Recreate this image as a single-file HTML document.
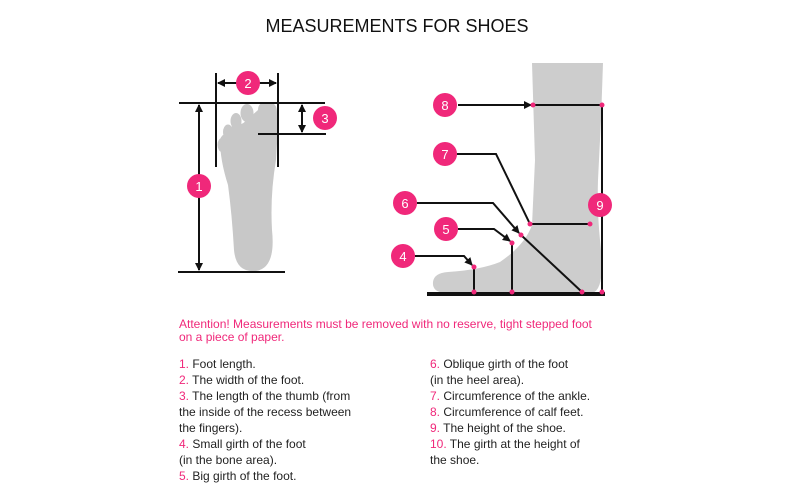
<!DOCTYPE html>
<html><head><meta charset="utf-8"><style>
html,body{margin:0;padding:0;background:#fff;width:800px;height:500px;overflow:hidden}
svg{display:block}
text{font-family:"Liberation Sans",sans-serif}
.c{fill:#f0287a}.n{fill:#fff;font-size:13px;text-anchor:middle}
.l{stroke:#111;stroke-width:2;fill:none}
.t{font-size:12px;fill:#222}.p{fill:#f0287a}
.d{fill:#f0287a}
</style></head><body>
<svg width="800" height="500" viewBox="0 0 800 500">
<defs><marker id="a" markerWidth="8" markerHeight="8" refX="7" refY="4" orient="auto" markerUnits="userSpaceOnUse"><path d="M0,0L8,4L0,8z" fill="#111"/></marker></defs>
<text x="397" y="32" text-anchor="middle" font-size="18" fill="#111">MEASUREMENTS FOR SHOES</text>
<!-- foot top view -->
<g fill="#c8c8c8">
<path d="M258,110 Q258,102 267,102 Q277,102 277,112 Q278,135 276,160 Q270,195 272,230 Q276,268 256,271 Q236,273 234,250 Q232,215 228,185 Q220,160 220,140 Q222,132 230,135 Z"/>
<ellipse cx="247" cy="113" rx="6.5" ry="9"/><ellipse cx="236" cy="121" rx="5.5" ry="8"/><ellipse cx="228" cy="132" rx="5" ry="7.5"/><ellipse cx="222" cy="145" rx="4.5" ry="7"/>
<path d="M226,128 L262,118 L268,150 L226,165Z"/>
</g>
<g class="l">
<line x1="179" y1="103" x2="325" y2="103"/><line x1="178" y1="272" x2="285" y2="272"/>
<line x1="216" y1="73" x2="216" y2="167"/><line x1="278" y1="73" x2="278" y2="167"/>
<line x1="258" y1="134" x2="326" y2="134"/>
<line x1="199" y1="186" x2="199" y2="105" marker-end="url(#a)"/><line x1="199" y1="186" x2="199" y2="270" marker-end="url(#a)"/>
<line x1="248" y1="83" x2="218" y2="83" marker-end="url(#a)"/><line x1="248" y1="83" x2="276" y2="83" marker-end="url(#a)"/>
<line x1="302" y1="118" x2="302" y2="105" marker-end="url(#a)"/><line x1="302" y1="118" x2="302" y2="132" marker-end="url(#a)"/>
</g>
<circle class="c" cx="199" cy="186" r="12"/><text class="n" x="199" y="191">1</text>
<circle class="c" cx="248" cy="83" r="12"/><text class="n" x="248" y="88">2</text>
<circle class="c" cx="325" cy="118" r="12"/><text class="n" x="325" y="123">3</text>
<!-- side view -->
<path fill="#cdcdcd" d="M532,63 L603,63 L601,120 L598,180 Q597,210 600,240 Q606,290 592,293 L445,293 Q432,292 433,282 Q434,273 448,272 Q480,270 500,262 Q525,245 532,225 L535,160 Z"/>
<rect x="427" y="292" width="178" height="4" fill="#111"/>
<g class="l">
<line x1="458" y1="105" x2="531" y2="105" marker-end="url(#a)"/><line x1="533" y1="105" x2="602" y2="105"/>
<line x1="602" y1="105" x2="602" y2="294"/>
<polyline points="457,154 496,154 530,224 590,224"/>
<polyline points="417,203 493,203 519,233" marker-end="url(#a)"/><line x1="521" y1="235" x2="582" y2="292"/>
<polyline points="458,229 494,229 510,241" marker-end="url(#a)"/><line x1="512" y1="243" x2="512" y2="292"/>
<polyline points="415,256 464,256 472,265" marker-end="url(#a)"/><line x1="474" y1="267" x2="474" y2="292"/>
</g>
<g class="d"><circle cx="533" cy="105" r="2.5"/><circle cx="602" cy="105" r="2.5"/><circle cx="530" cy="224" r="2.5"/><circle cx="590" cy="224" r="2.5"/><circle cx="521" cy="235" r="2.5"/><circle cx="582" cy="292" r="2.5"/><circle cx="512" cy="243" r="2.5"/><circle cx="512" cy="292" r="2.5"/><circle cx="474" cy="267" r="2.5"/><circle cx="474" cy="292" r="2.5"/><circle cx="602" cy="292" r="2.5"/></g>
<circle class="c" cx="445" cy="105" r="12"/><text class="n" x="445" y="110">8</text>
<circle class="c" cx="445" cy="154" r="12"/><text class="n" x="445" y="159">7</text>
<circle class="c" cx="405" cy="203" r="12"/><text class="n" x="405" y="208">6</text>
<circle class="c" cx="446" cy="229" r="12"/><text class="n" x="446" y="234">5</text>
<circle class="c" cx="403" cy="256" r="12"/><text class="n" x="403" y="261">4</text>
<circle class="c" cx="600" cy="205" r="12"/><text class="n" x="600" y="210">9</text>
<!-- text -->
<text x="179" y="328" font-size="12" fill="#f0287a">Attention! Measurements must be removed with no reserve, tight stepped foot</text>
<text x="179" y="341" font-size="12" fill="#f0287a">on a piece of paper.</text>
<g class="t">
<text x="179" y="368"><tspan class="p">1.</tspan> Foot length.</text>
<text x="179" y="384"><tspan class="p">2.</tspan> The width of the foot.</text>
<text x="179" y="400"><tspan class="p">3.</tspan> The length of the thumb (from</text>
<text x="179" y="416">the inside of the recess between</text>
<text x="179" y="432">the fingers).</text>
<text x="179" y="448"><tspan class="p">4.</tspan> Small girth of the foot</text>
<text x="179" y="464">(in the bone area).</text>
<text x="179" y="480"><tspan class="p">5.</tspan> Big girth of the foot.</text>
<text x="430" y="368"><tspan class="p">6.</tspan> Oblique girth of the foot</text>
<text x="430" y="384">(in the heel area).</text>
<text x="430" y="400"><tspan class="p">7.</tspan> Circumference of the ankle.</text>
<text x="430" y="416"><tspan class="p">8.</tspan> Circumference of calf feet.</text>
<text x="430" y="432"><tspan class="p">9.</tspan> The height of the shoe.</text>
<text x="430" y="448"><tspan class="p">10.</tspan> The girth at the height of</text>
<text x="430" y="464">the shoe.</text>
</g>
</svg>
</body></html>
